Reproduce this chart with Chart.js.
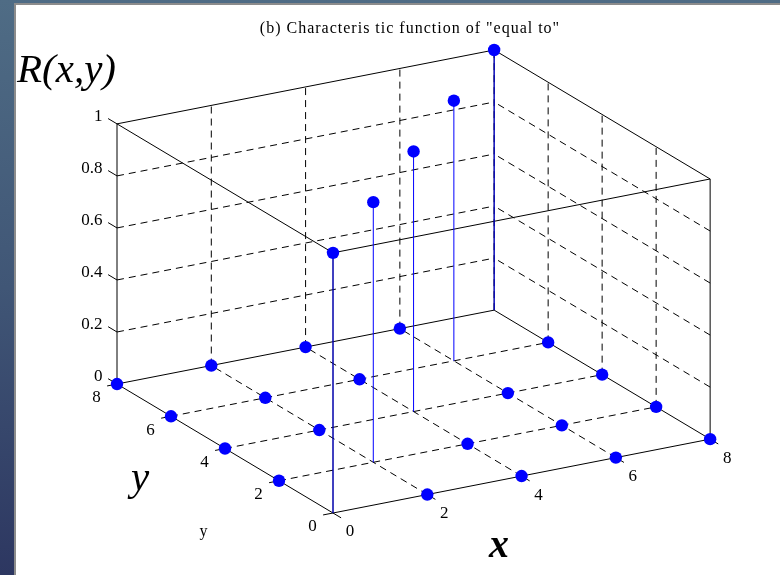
<!DOCTYPE html>
<html>
<head>
<meta charset="utf-8">
<script src="https://cdn.jsdelivr.net/npm/chart.js@4.4.1/dist/chart.umd.min.js"></script>
<style>
  html, body { margin: 0; padding: 0; width: 780px; height: 575px; overflow: hidden; }
  body { position: relative; background: linear-gradient(to bottom, #4f6c85 0%, #405676 50%, #2d3761 100%); }
  #panel { position: absolute; left: 14px; top: 3px; right: 0; bottom: 0; background: #ffffff;
           border-left: 2px solid #8c8c8c; border-top: 2px solid #8c8c8c; }
  #c { position: absolute; left: 0; top: 0; }
</style>
</head>
<body>
<div id="panel"></div>
<canvas id="c" width="780" height="575"></canvas>
<script>
// Stem plot of the characteristic function R(x,y) of the relation "x equal to y"
const xValues = [0, 2, 4, 6, 8];
const yValues = [0, 2, 4, 6, 8];
// rValues[i][j] = R(xValues[i], yValues[j])
const rValues = [
  [1, 0, 0, 0, 0],
  [0, 1, 0, 0, 0],
  [0, 0, 1, 0, 0],
  [0, 0, 0, 1, 0],
  [0, 0, 0, 0, 1]
];
const xTicks = [0, 2, 4, 6, 8];
const yTicks = [0, 2, 4, 6, 8];
const zTicks = [0, 0.2, 0.4, 0.6, 0.8, 1];
const zTickLabels = ['0', '0.2', '0.4', '0.6', '0.8', '1'];
const xRange = [0, 8];
const yRange = [0, 8];
const zRange = [0, 1];

const titleText = '(b) Characteris tic function of "equal to"';
const zAxisTitle = 'R(x,y)';
const xAxisTitle = 'x';
const yAxisTitle = 'y';
const yAxisSmallTitle = 'y';

// Camera: azimuth / elevation in degrees, plot-box proportions (x, y, z)
const VIEW = { az: -29.8, el: 20 };
const BOX = [1, 1, 0.637];
const PX_PER_UNIT = 434.6;             // canvas pixels per plot-box unit
const ORIGIN_PX = { x: 333, y: 513 };  // canvas position of the (0,0,0) corner
const W = 780, H = 575;

const az = VIEW.az * Math.PI / 180, el = VIEW.el * Math.PI / 180;
function project(x, y, z) {
  const X = (x - xRange[0]) / (xRange[1] - xRange[0]) * BOX[0];
  const Y = (y - yRange[0]) / (yRange[1] - yRange[0]) * BOX[1];
  const Z = (z - zRange[0]) / (zRange[1] - zRange[0]) * BOX[2];
  return {
    x: X * Math.cos(az) + Y * Math.sin(az),
    y: -X * Math.sin(az) * Math.sin(el) + Y * Math.cos(az) * Math.sin(el) + Z * Math.cos(el)
  };
}

const datasets = [];
function segment(p, q, color, dash, order) {
  datasets.push({
    data: [project(...p), project(...q)],
    showLine: true, pointRadius: 0, borderWidth: 1,
    borderColor: color, borderDash: dash, order: order, clip: false
  });
}

const [x0, x1] = xRange, [y0, y1] = yRange, [z0, z1] = zRange;
const DASH = [7, 5];

// dashed grid on the floor and on the two back walls
xTicks.filter(t => t > x0 && t < x1).forEach(t => segment([t, y0, z0], [t, y1, z0], '#000', DASH, 4));
yTicks.filter(t => t > y0 && t < y1).forEach(t => segment([x0, t, z0], [x1, t, z0], '#000', DASH, 4));
xTicks.filter(t => t > x0).forEach(t => segment([t, y1, z0], [t, y1, z1], '#000', DASH, 4));
yTicks.filter(t => t < y1 && t > y0).forEach(t => segment([x1, t, z0], [x1, t, z1], '#000', DASH, 4));
zTicks.filter(t => t > z0 && t < z1).forEach(t => {
  segment([x0, y1, t], [x1, y1, t], '#000', DASH, 4);
  segment([x1, y0, t], [x1, y1, t], '#000', DASH, 4);
});

// solid plot box
[z0, z1].forEach(z => {
  segment([x0, y0, z], [x1, y0, z], '#000', [], 3);
  segment([x1, y0, z], [x1, y1, z], '#000', [], 3);
  segment([x1, y1, z], [x0, y1, z], '#000', [], 3);
  segment([x0, y1, z], [x0, y0, z], '#000', [], 3);
});
[[x0, y0], [x1, y0], [x1, y1], [x0, y1]].forEach(([x, y]) => segment([x, y, z0], [x, y, z1], '#000', [], 3));

// tick marks
const TICK_X = 0.3, TICK_Y = 0.21, TICK_Z = 0.33;   // lengths in data units
xTicks.forEach(t => segment([t, y0, z0], [t, y0 - TICK_X, z0], '#000', [], 3));
yTicks.forEach(t => segment([x0, t, z0], [x0 - TICK_Y, t, z0], '#000', [], 3));
zTicks.forEach(t => segment([x0, y1, t], [x0, y1 + TICK_Z, t], '#000', [], 3));

// stems and markers
const markers = [];
xValues.forEach((x, i) => yValues.forEach((y, j) => {
  const r = rValues[i][j];
  if (r !== 0) segment([x, y, 0], [x, y, r], '#0000ff', [], 1);
  markers.push(project(x, y, r));
}));
datasets.push({
  data: markers, showLine: false, pointRadius: 6.2, pointHoverRadius: 6.2,
  pointBackgroundColor: '#0000ff', pointBorderWidth: 0, borderColor: '#0000ff',
  order: 0, clip: false
});

const SERIF = '"Liberation Serif", "Times New Roman", serif';

const textPlugin = {
  id: 'axisText',
  afterDraw(chart) {
    const { ctx } = chart;
    const sx = chart.scales.x, sy = chart.scales.y;
    const px = (x, y, z) => {
      const p = project(x, y, z);
      return { x: sx.getPixelForValue(p.x), y: sy.getPixelForValue(p.y) };
    };
    ctx.save();
    ctx.fillStyle = '#000';

    // tick labels
    ctx.font = '17px ' + SERIF;
    ctx.textBaseline = 'middle';
    ctx.textAlign = 'right';
    zTicks.forEach((t, k) => {
      const p = px(x0, y1, t);
      ctx.fillText(zTickLabels[k], p.x - 14.5, p.y - 7.2);
    });
    ctx.textAlign = 'center';
    yTicks.forEach(t => {
      const p = px(x0, t, z0);
      ctx.fillText(String(t), p.x - 20.5, p.y + 14);
    });
    xTicks.forEach(t => {
      const p = px(t, y0, z0);
      ctx.fillText(String(t), p.x + 17, p.y + 19);
    });

    // title
    ctx.font = '16px ' + SERIF;
    ctx.letterSpacing = '1px';
    ctx.textAlign = 'center';
    ctx.textBaseline = 'alphabetic';
    ctx.fillText(titleText, 410, 33);
    ctx.letterSpacing = '0px';

    // axis titles
    ctx.font = 'italic 41px ' + SERIF;
    ctx.textAlign = 'left';
    ctx.fillText(zAxisTitle, 17, 82);
    ctx.textAlign = 'center';
    ctx.fillText(yAxisTitle, 140, 490);
    ctx.font = 'italic bold 40px ' + SERIF;
    ctx.fillText(xAxisTitle, 499, 557);
    ctx.font = '16px ' + SERIF;
    ctx.fillText(yAxisSmallTitle, 203.5, 536);
    ctx.restore();
  }
};

new Chart(document.getElementById('c'), {
  type: 'scatter',
  data: { datasets },
  options: {
    responsive: false,
    animation: false,
    events: [],
    devicePixelRatio: 1,
    layout: { padding: 0, autoPadding: false },
    plugins: { legend: { display: false }, tooltip: { enabled: false }, title: { display: false } },
    scales: {
      x: { type: 'linear', display: false,
           min: -ORIGIN_PX.x / PX_PER_UNIT, max: (W - ORIGIN_PX.x) / PX_PER_UNIT },
      y: { type: 'linear', display: false,
           min: -(H - ORIGIN_PX.y) / PX_PER_UNIT, max: ORIGIN_PX.y / PX_PER_UNIT }
    }
  },
  plugins: [textPlugin]
});
</script>
</body>
</html>
